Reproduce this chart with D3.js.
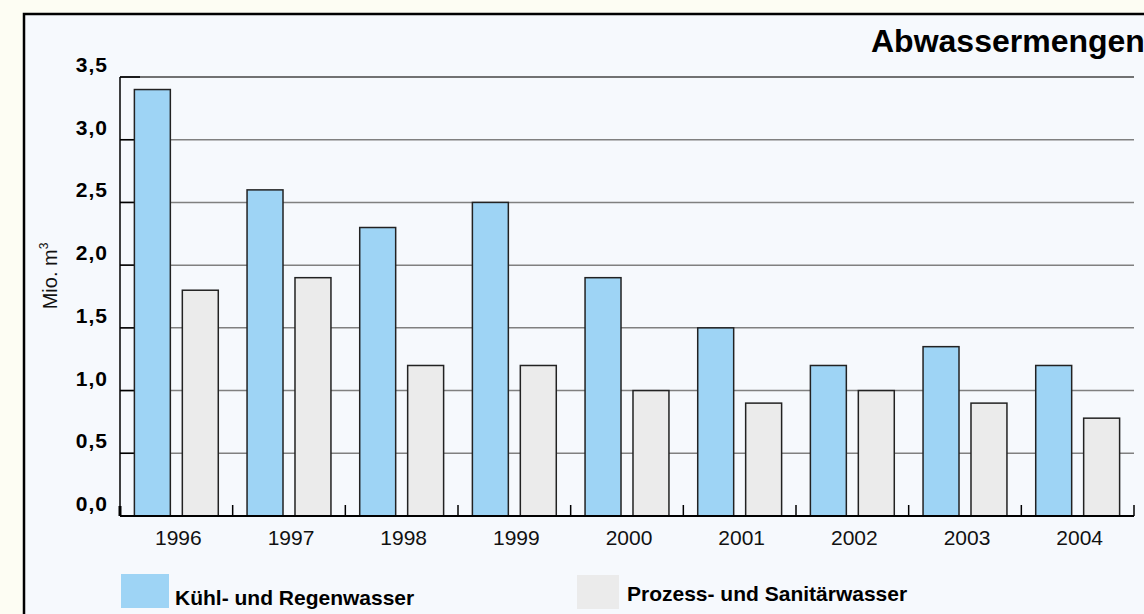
<!DOCTYPE html>
<html>
<head>
<meta charset="utf-8">
<script src="https://cdn.jsdelivr.net/npm/d3@7"></script>
<style>
  html, body { margin: 0; padding: 0; background: #fdfdf3; }
  svg { display: block; font-family: "Liberation Sans", Arial, Helvetica, sans-serif; }
</style>
</head>
<body>
<svg id="chart" width="1144" height="614"></svg>
<script>
// Abwassermengen 1996-2004, Mio. m3
var years = ["1996", "1997", "1998", "1999", "2000", "2001", "2002", "2003", "2004"];
var kuehlRegen = [3.4, 2.6, 2.3, 2.5, 1.9, 1.5, 1.2, 1.35, 1.2];
var prozessSanitaer = [1.8, 1.9, 1.2, 1.2, 1.0, 0.9, 1.0, 0.9, 0.78];
var yTicks = [0, 0.5, 1, 1.5, 2, 2.5, 3, 3.5];
var seriesNames = ["Kühl- und Regenwasser", "Prozess- und Sanitärwasser"];
var colors = ["#9ed4f5", "#ebebeb"];

var svg = d3.select("#chart");

// frame
svg.append("rect")
    .attr("x", 24).attr("y", 14)
    .attr("width", 1130).attr("height", 610)
    .attr("fill", "#f6f9fd")
    .attr("stroke", "#000")
    .attr("stroke-width", 2.5);

var plotLeft = 120, plotRight = 1134, plotTop = 77, plotBottom = 516;

var x = d3.scaleBand().domain(years).range([plotLeft, plotRight]);
var inner = d3.scaleBand().domain([0, 1]).range([0, x.bandwidth()])
    .paddingInner(0.25).paddingOuter(0.3);
var y = d3.scaleLinear().domain([0, 3.5]).range([plotBottom, plotTop]);

// grid lines
svg.append("g").selectAll("line")
    .data(yTicks.filter(d => d > 0))
    .join("line")
    .attr("x1", plotLeft).attr("x2", plotRight)
    .attr("y1", d => y(d)).attr("y2", d => y(d))
    .attr("stroke", d => d === 3.5 ? "#444" : "#808080")
    .attr("stroke-width", 1.5);

// black tick stubs on left
svg.append("g").selectAll("line")
    .data(yTicks.filter(d => d > 0))
    .join("line")
    .attr("x1", plotLeft).attr("x2", plotLeft + 20)
    .attr("y1", d => y(d)).attr("y2", d => y(d))
    .attr("stroke", "#000")
    .attr("stroke-width", 1.5);

// bars
var groups = svg.append("g").selectAll("g")
    .data(years)
    .join("g")
    .attr("transform", d => "translate(" + x(d) + ",0)");

groups.selectAll("rect")
    .data((d, i) => [kuehlRegen[i], prozessSanitaer[i]])
    .join("rect")
    .attr("x", (d, j) => inner(j))
    .attr("width", inner.bandwidth())
    .attr("y", d => y(d))
    .attr("height", d => plotBottom - y(d))
    .attr("fill", (d, j) => colors[j])
    .attr("stroke", "#222")
    .attr("stroke-width", 1.5);

// axes
svg.append("line")
    .attr("x1", plotLeft).attr("x2", plotLeft)
    .attr("y1", plotTop).attr("y2", plotBottom)
    .attr("stroke", "#000").attr("stroke-width", 1.5);
svg.append("line")
    .attr("x1", plotLeft).attr("x2", plotRight)
    .attr("y1", plotBottom).attr("y2", plotBottom)
    .attr("stroke", "#000").attr("stroke-width", 2);

// small ticks at group boundaries
svg.append("g").selectAll("line")
    .data(years.slice(1).map(d => x(d)).concat([plotRight]))
    .join("line")
    .attr("x1", d => d).attr("x2", d => d)
    .attr("y1", plotBottom - 11).attr("y2", plotBottom)
    .attr("stroke", "#000").attr("stroke-width", 1.5);
svg.append("line")
    .attr("x1", plotLeft).attr("x2", plotLeft)
    .attr("y1", plotBottom - 10).attr("y2", plotBottom)
    .attr("stroke", "#000").attr("stroke-width", 3);

// y tick labels
svg.append("g").selectAll("text")
    .data(yTicks)
    .join("text")
    .attr("x", 108)
    .attr("y", d => y(d) - 5)
    .attr("text-anchor", "end")
    .attr("font-size", 21)
    .attr("font-weight", "bold")
    .attr("letter-spacing", 1)
    .text(d => d3.format(".1f")(d).replace(".", ","));

// x labels
svg.append("g").selectAll("text")
    .data(years)
    .join("text")
    .attr("x", d => x(d) + x.bandwidth() / 2 + 2)
    .attr("y", 545)
    .attr("text-anchor", "middle")
    .attr("font-size", 21)
    .attr("fill", "#111")
    .text(d => d);

// y axis title
var yl = svg.append("text")
    .attr("transform", "translate(57,276) rotate(-90)")
    .attr("text-anchor", "middle")
    .attr("font-size", 20)
    .attr("fill", "#111");
yl.append("tspan").text("Mio. m");
yl.append("tspan").attr("font-size", 12).attr("dy", -9).text("3");

// title
svg.append("text")
    .attr("x", 871).attr("y", 52)
    .attr("font-size", 32)
    .attr("font-weight", "bold")
    .text("Abwassermengen");

// legend
var legendItems = [
    {x: 121, y: 574, w: 48, tx: 175, ty: 605},
    {x: 577, y: 575, w: 42, tx: 627, ty: 601}
];
var lg = svg.append("g").selectAll("g")
    .data(legendItems)
    .join("g");
lg.append("rect")
    .attr("x", d => d.x).attr("y", d => d.y)
    .attr("width", d => d.w).attr("height", 34)
    .attr("fill", (d, i) => colors[i]);
lg.append("text")
    .attr("x", d => d.tx).attr("y", d => d.ty)
    .attr("font-size", 21)
    .attr("font-weight", "bold")
    .text((d, i) => seriesNames[i]);
</script>
</body>
</html>
